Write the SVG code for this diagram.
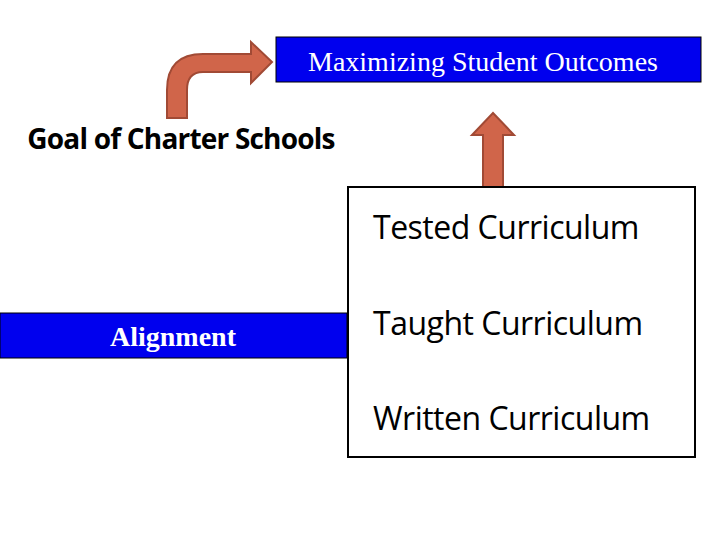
<svg xmlns="http://www.w3.org/2000/svg" width="720" height="540" viewBox="0 0 720 540">
<style>
.arr{fill:#d0654a;stroke:#a14a35;stroke-width:2}
.blue{fill:#0000ee;stroke:#000;stroke-width:1}
.ser{font-family:'Liberation Serif',serif;font-size:28px}
.sans{font-family:'Open Sans','Noto Sans',sans-serif;font-size:32px;fill:#000}
</style>
<rect width="720" height="540" fill="#fff"/>
<g id="connectors">
<path class="arr" d="M167,118 V90 Q167,54 203,54 H251 V42 L272,62 L251,83 V72 H203 Q187,72 187,90 V118 Z"/>
<path class="arr" d="M483,190 V135 H472 L493,113 L514,135 H503 V190 Z"/>
</g>
<g id="goal-outcomes">
<rect class="blue" x="276" y="37" width="425" height="45"/>
<text class="ser" x="483" y="71" text-anchor="middle" fill="#fff">Maximizing Student Outcomes</text>
</g>
<g id="goal-charter">
<text x="181" y="149" text-anchor="middle" font-family="'Open Sans','Noto Sans',sans-serif" font-size="28" font-weight="bold" letter-spacing="-0.8">Goal of Charter Schools</text>
</g>
<g id="alignment">
<rect class="blue" x="0" y="313" width="347" height="45"/>
<text class="ser" x="173" y="346" text-anchor="middle" fill="#fff" font-weight="bold">Alignment</text>
</g>
<g id="curriculum">
<rect x="348" y="187" width="347" height="270" fill="#fff" stroke="#000" stroke-width="2"/>
<text class="sans" x="373" y="239" letter-spacing="-0.5">Tested Curriculum</text>
<text class="sans" x="373" y="335" letter-spacing="-0.5">Taught Curriculum</text>
<text class="sans" x="373" y="430" letter-spacing="-0.5">Written Curriculum</text>
</g>
</svg>
